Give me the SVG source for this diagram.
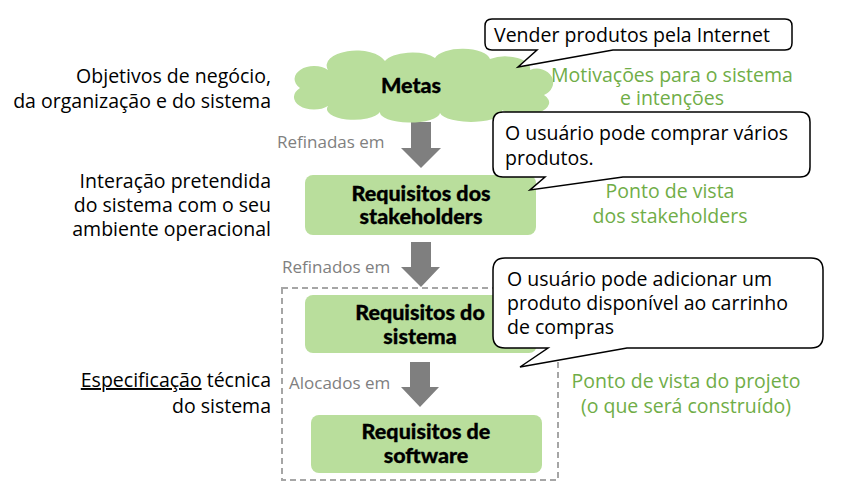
<svg xmlns="http://www.w3.org/2000/svg" width="862" height="496" viewBox="0 0 862 496">
<style>
.t{font-family:"Open Sans","Noto Sans",sans-serif;font-size:19.5px;fill:#000}
.r{text-anchor:end}
.g{font-family:"Open Sans","Noto Sans",sans-serif;font-size:19.5px;fill:#70ad47;text-anchor:middle}
.l{font-family:"Open Sans","Noto Sans",sans-serif;font-size:17px;fill:#808080}
.b{font-family:Lato,"Liberation Sans",sans-serif;font-weight:900;font-size:21.5px;fill:#000;stroke:#000;stroke-width:0.3;text-anchor:middle}
.box{fill:#b9de9c}
.arr{fill:#7f7f7f}
.call{fill:#fff;stroke:#000;stroke-width:1.5;stroke-linejoin:miter}
</style>
<rect width="862" height="496" fill="#fff"/>
<g id="left-labels">
<text class="t r" x="271" y="83">Objetivos de negócio,</text>
<text class="t r" x="271" y="108">da organização e do sistema</text>
<text class="t r" x="271" y="188">Interação pretendida</text>
<text class="t r" x="271" y="212">do sistema com o seu</text>
<text class="t r" x="271" y="236">ambiente operacional</text>
<text class="t r" x="271" y="387"><tspan text-decoration="underline">Especificação</tspan> técnica</text>
<text class="t r" x="271" y="413">do sistema</text>
</g>
<g id="green-labels">
<text class="g" x="672" y="82">Motivações para o sistema</text>
<text class="g" x="672" y="105">e intenções</text>
<text class="g" x="670" y="198">Ponto de vista</text>
<text class="g" x="670" y="223">dos stakeholders</text>
<text class="g" x="686" y="388">Ponto de vista do projeto</text>
<text class="g" x="686" y="413">(o que será construído)</text>
</g>
<g id="scope">
<rect x="282" y="288" width="276" height="192" fill="none" stroke="#a6a6a6" stroke-width="2" stroke-dasharray="6 4"/>
</g>
<g id="connectors">
<path class="arr" d="M411 122 H431 V148 H441 L421 168 L401 148 H411 Z"/>
<path class="arr" d="M411 242 H431 V267 H440 L421 287 L401 267 H411 Z"/>
<path class="arr" d="M410 362 H430 V387 H439 L420 407 L401 387 H410 Z"/>
<text class="l" x="277" y="148">Refinadas em</text>
<text class="l" x="282" y="273">Refinados em</text>
<text class="l" x="289" y="389">Alocados em</text>
</g>
<g id="metas">
<path class="box" d="M300 88 A18 12 0 0 1 328 70 A28 14 0 0 1 385 61 A28 12 0 0 1 435 58 A28 12 0 0 1 490 59 A25 12 0 0 1 530 70 A14 12 0 0 1 544 95 A25 12 0 0 1 502 110 A30 10 0 0 1 440 113 A30 10 0 0 1 380 112 A25 10 0 0 1 328 106 A16 10 0 0 1 300 88 Z"/>
<text class="b" x="411" y="93">Metas</text>
</g>
<g id="req-stakeholders">
<rect class="box" x="305" y="175" width="231" height="60" rx="8"/>
<text class="b" x="421" y="201">Requisitos dos</text>
<text class="b" x="421" y="224">stakeholders</text>
</g>
<g id="req-sistema">
<rect class="box" x="305" y="295" width="232" height="58" rx="8"/>
<text class="b" x="420" y="320">Requisitos do</text>
<text class="b" x="420" y="344">sistema</text>
</g>
<g id="req-software">
<rect class="box" x="311" y="415" width="231" height="58" rx="8"/>
<text class="b" x="426" y="439">Requisitos de</text>
<text class="b" x="426" y="463">software</text>
</g>
<g id="callout-1">
<path class="call" d="M492 19 H785 Q792 19 792 26 V43 Q792 50 785 50 H613 L518 67 L537 50 H492 Q485 50 485 43 V26 Q485 19 492 19 Z"/>
<text class="t" x="494" y="42">Vender produtos pela Internet</text>
</g>
<g id="callout-2">
<path class="call" d="M503 112 H800 Q810 112 810 122 V167 Q810 177 800 177 H623 L530 190 L545 177 H503 Q493 177 493 167 V122 Q493 112 503 112 Z"/>
<text class="t" x="505" y="140">O usuário pode comprar vários</text>
<text class="t" x="505" y="165">produtos.</text>
</g>
<g id="callout-3">
<path class="call" d="M505 258 H811 Q823 258 823 270 V336 Q823 348 811 348 H627 L520 367 L548 348 H505 Q493 348 493 336 V270 Q493 258 505 258 Z"/>
<text class="t" x="507" y="286">O usuário pode adicionar um</text>
<text class="t" x="507" y="310">produto disponível ao carrinho</text>
<text class="t" x="507" y="334">de compras</text>
</g>
</svg>
